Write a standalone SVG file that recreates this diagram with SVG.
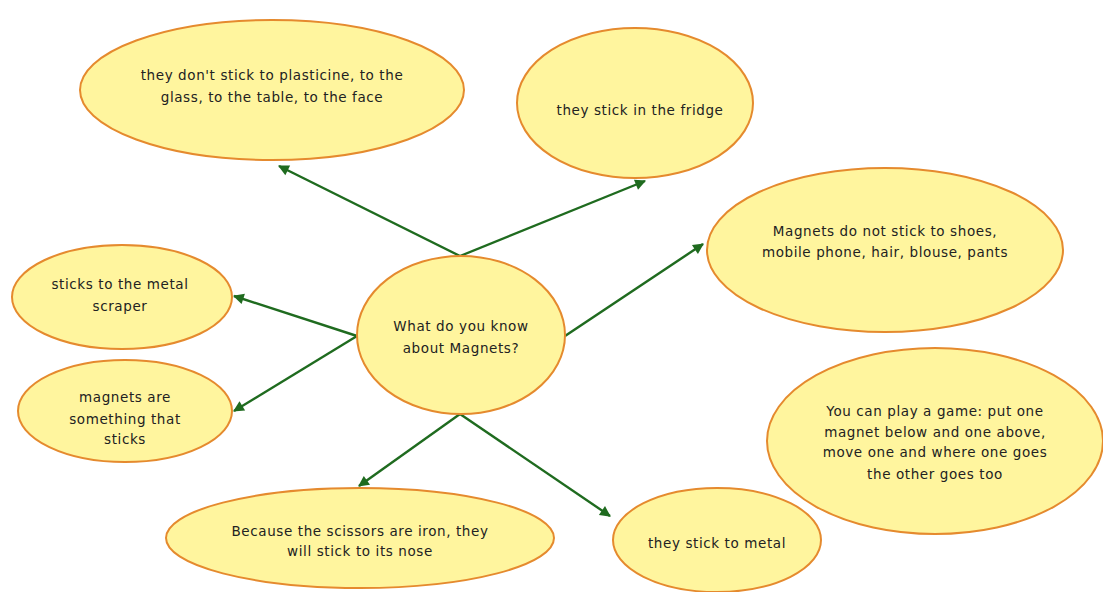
<svg xmlns="http://www.w3.org/2000/svg" width="1103" height="592" viewBox="0 0 1103 592">
<style>
.n ellipse{fill:#fff59e;stroke:#e58a2e;stroke-width:2}
.n text{font-family:"DejaVu Sans","Liberation Sans",sans-serif;font-size:13.5px;letter-spacing:0.6px;fill:#222;text-anchor:middle}
.c line{stroke:#1f6b1f;stroke-width:2.4;marker-end:url(#ah)}
</style>
<defs>
<marker id="ah" viewBox="0 0 10 10" refX="9" refY="5" markerWidth="6" markerHeight="6" markerUnits="userSpaceOnUse" orient="auto" overflow="visible">
<path d="M0,0 L10,5 L0,10 z" fill="#1f6b1f" transform="scale(1.8) translate(-4,-2.2)"/>
</marker>
</defs>
<rect width="1103" height="592" fill="#fff"/>
<g class="c">
<line x1="460" y1="256" x2="279" y2="166"/>
<line x1="460" y1="256" x2="645" y2="181"/>
<line x1="565" y1="336" x2="703" y2="244"/>
<line x1="357" y1="336" x2="234" y2="296"/>
<line x1="357" y1="336" x2="234" y2="411"/>
<line x1="460" y1="414" x2="359" y2="486"/>
<line x1="460" y1="414" x2="610" y2="516"/>
</g>
<g class="n" id="n-center"><ellipse cx="461" cy="335" rx="104" ry="79"/><text x="461" y="331">What do you know</text><text x="461" y="353">about Magnets?</text></g>
<g class="n" id="n-dont"><ellipse cx="272" cy="90" rx="192" ry="70"/><text x="272" y="80">they don't stick to plasticine, to the</text><text x="272" y="102">glass, to the table, to the face</text></g>
<g class="n" id="n-fridge"><ellipse cx="635" cy="103" rx="118" ry="75"/><text x="640" y="115">they stick in the fridge</text></g>
<g class="n" id="n-shoes"><ellipse cx="885" cy="250" rx="178" ry="82"/><text x="885" y="236">Magnets do not stick to shoes,</text><text x="885" y="257">mobile phone, hair, blouse, pants</text></g>
<g class="n" id="n-scraper"><ellipse cx="122" cy="297" rx="110" ry="52"/><text x="120" y="289">sticks to the metal</text><text x="120" y="311">scraper</text></g>
<g class="n" id="n-sticks"><ellipse cx="125" cy="411" rx="107" ry="51"/><text x="125" y="402">magnets are</text><text x="125" y="424">something that</text><text x="125" y="444">sticks</text></g>
<g class="n" id="n-game"><ellipse cx="935" cy="441" rx="168" ry="93"/><text x="935" y="416">You can play a game: put one</text><text x="935" y="437">magnet below and one above,</text><text x="935" y="457">move one and where one goes</text><text x="935" y="479">the other goes too</text></g>
<g class="n" id="n-scissors"><ellipse cx="360" cy="538" rx="194" ry="50"/><text x="360" y="536">Because the scissors are iron, they</text><text x="360" y="556">will stick to its nose</text></g>
<g class="n" id="n-metal"><ellipse cx="717" cy="540" rx="104" ry="52"/><text x="717" y="548">they stick to metal</text></g>
</svg>
